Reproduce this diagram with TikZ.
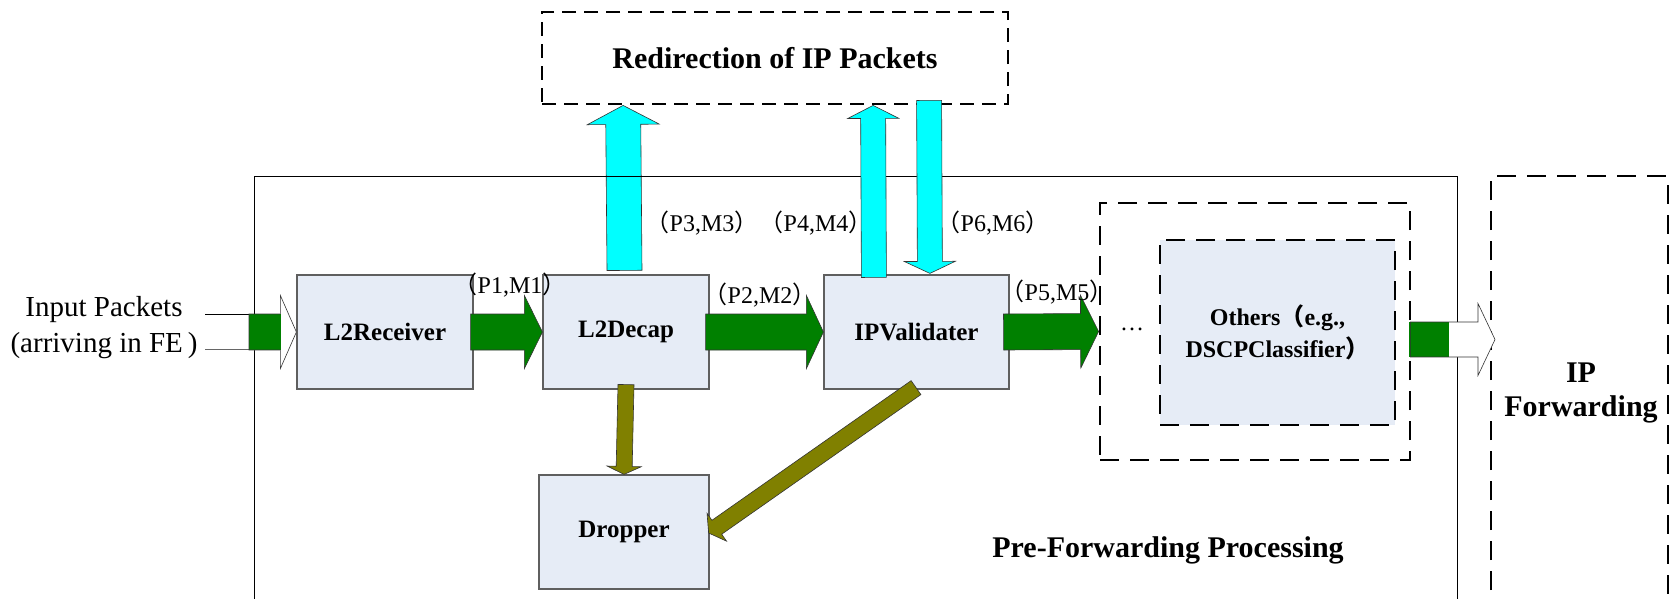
\documentclass[tikz,border=0pt]{standalone}
\usepackage{fontspec}
\setmainfont{Liberation Serif}
\newfontfamily\cjkfont{Noto Sans CJK SC}
\usetikzlibrary{calc}

% full-width parentheses
\newcommand\fwlp{{\cjkfont （}}
\newcommand\fwrp{{\cjkfont ）}}

% font sizes
\newcommand\stagefont{\fontsize{25}{30}\selectfont\bfseries}
\newcommand\headfont{\fontsize{30}{34}\selectfont\bfseries}
\newcommand\tagfont{\fontsize{24}{28}\selectfont}
\newcommand\inputfont{\fontsize{29}{36}\selectfont}

\definecolor{boxfill}{RGB}{230,236,246}
\definecolor{boxline}{RGB}{95,95,95}
\definecolor{flowgreen}{RGB}{0,128,0}
\definecolor{redircyan}{RGB}{0,255,255}
\definecolor{dropolive}{RGB}{128,128,0}

% block arrow: #1 style, #2 tail, #3 tip, #4 body half width, #5 head half width, #6 head length
\newcommand\blockarrow[6]{%
  \path[#1] let \p1=($(#3)-(#2)$), \n1={veclen(\x1,\y1)}, \n2={atan2(\y1,\x1)} in
    [shift={(#2)}, rotate=\n2]
    (0pt,#4pt) -- (\n1-#6pt,#4pt) -- (\n1-#6pt,#5pt) -- (\n1,0pt)
    -- (\n1-#6pt,-#5pt) -- (\n1-#6pt,-#4pt) -- (0pt,-#4pt) -- cycle;
}

\tikzset{
  stage/.style={draw=boxline, line width=1.2pt, fill=boxfill, inner sep=0pt,
    font=\stagefont, align=center},
  groupdash/.style={draw=black, line width=2.8pt, dash pattern=on 14pt off 8pt},
  widedash/.style={draw=black, line width=2.8pt, dash pattern=on 19pt off 11pt},
  tag/.style={inner sep=0pt, font=\tagfont},
  arrowline/.style={draw=black!80, line width=0.6pt},
  greenarrow/.style={fill=flowgreen, arrowline},
  cyanarrow/.style={fill=redircyan, arrowline},
  olivearrow/.style={fill=dropolive, arrowline},
}

\begin{document}
\begin{tikzpicture}[x=1pt,y=-1pt]
\useasboundingbox (0,0) rectangle (1672,598);
\clip (0,0) rectangle (1672,598);

% redirection block
\node[groupdash, minimum width=466pt, minimum height=92pt, font=\headfont]
  (redir) at (775,58) {Redirection of IP Packets};

% IP forwarding block (open towards the bottom)
\draw[widedash] (1491,620) -- (1491,176) -- (1668,176) -- (1668,620);
\node[font=\headfont, align=center, inner sep=0pt] (ipfwd) at (1581,393) {IP\\Forwarding};

% further stages
\node[widedash, minimum width=310pt, minimum height=257pt] (othO) at (1255,331.5) {};
\node[widedash, fill=boxfill, minimum width=235pt, minimum height=185pt,
  font=\fontsize{24}{32}\selectfont\bfseries, align=center, inner sep=0pt]
  (othI) at (1277.5,332.5) {Others\fwlp e.g.,\\DSCPClassifier\fwrp};

% processing stages
\node[stage, minimum width=176pt, minimum height=114pt] (l2r) at (385,332) {L2Receiver};
\node[stage, minimum width=166pt, minimum height=114pt] (l2d) at (626,332) {L2Decap};
\node[stage, minimum width=185pt, minimum height=114pt] (ipv) at (916.5,332) {IPValidater};
\node[stage, minimum width=170pt, minimum height=114pt] (drop) at (624,532) {Dropper};

% L2Decap -> redirection (runs under the frame line)
\blockarrow{cyanarrow}{$(l2d.north)+(-1.5,-4)$}{$(redir.south west)+(82.5,0)$}{17.5}{36}{19}

% pre-forwarding frame
\draw[line width=1pt] (254,620) -- (254,176) -- (1457,176) -- (1457,620);
\node[font=\headfont, inner sep=0pt] (prefwd) at (1168,550) {Pre-Forwarding Processing};

% IPValidater <-> redirection
\blockarrow{cyanarrow}{$(ipv.north west)+(50.5,3)$}{$(redir.south west)+(332.5,0)$}{12.5}{25.5}{13}
\blockarrow{cyanarrow}{$(redir.south west)+(388.5,-5)$}{$(ipv.north west)+(106.5,-1)$}{12.5}{25.5}{12}

% input lines and arrow
\coordinate (inS) at (249,332);
\draw[line width=1pt] (205,314) -- (inS |- 0,314);
\draw[line width=1pt, black!60] (205,349) -- (inS |- 0,349);
\blockarrow{fill=white}{inS}{l2r.west}{18}{36.5}{16}
\fill[flowgreen] (249,314) rectangle (281,350);
\blockarrow{arrowline}{inS}{l2r.west}{18}{36.5}{16}
\node[font=\inputfont, align=center, inner sep=0pt] (inlbl) at (104,328)
  {Input Packets\\(arriving in FE\,)};

% main flow
\blockarrow{greenarrow}{$(l2r.east)+(-3,0)$}{l2d.west}{18}{36.5}{18}
\blockarrow{greenarrow}{$(l2d.east)+(-4,0)$}{ipv.west}{18}{36.5}{17}
\blockarrow{greenarrow}{$(ipv.east)+(-6,0)$}{othO.west}{18}{36.5}{18}

% drops
\blockarrow{olivearrow}{$(l2d.south)+(0,-5)$}{drop.north}{8}{17}{8}
\blockarrow{olivearrow}{$(ipv.south)+(-0.5,-2)$}{$(drop.east)+(-1,1)$}{8.5}{17}{10}

% output towards IP forwarding
\coordinate (outS) at ($(othO.east)+(-1,8)$);
\coordinate (outE) at (1495,339.5);
\blockarrow{fill=white}{outS}{outE}{17.5}{36}{17}
\fill[flowgreen] (1409,322) rectangle (1449,357);
\blockarrow{arrowline}{outS}{outE}{17.5}{36}{17}

% labels
\node[tag] (p1) at (510,285) {\fwlp P1,M1\fwrp};
\node[tag] (p2) at (760,295) {\fwlp P2,M2\fwrp};
\node[tag] (p3) at (702,223) {\fwlp P3,M3\fwrp};
\node[tag] (p4) at (816,223) {\fwlp P4,M4\fwrp};
\node[tag] (p6) at (993,223) {\fwlp P6,M6\fwrp};
\node[tag] (p5) at (1057,292) {\fwlp P5,M5\fwrp};
\node[tag] (dots) at (1132,329) {…};
\end{tikzpicture}
\end{document}
